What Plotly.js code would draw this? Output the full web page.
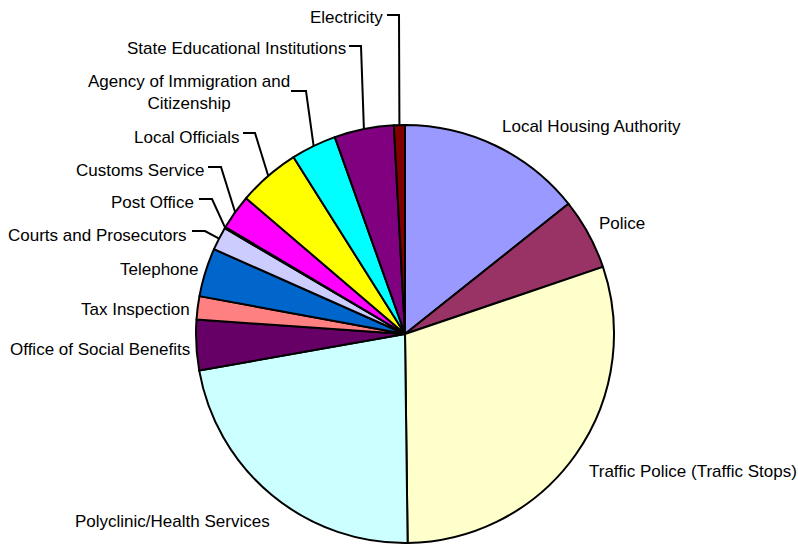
<!DOCTYPE html>
<html>
<head>
<meta charset="utf-8">
<script src="https://cdn.plot.ly/plotly-3.0.1.min.js"></script>
<style>
  html, body { margin: 0; padding: 0; background: #ffffff; }
  #chart { width: 798px; height: 544px; }
</style>
</head>
<body>
<div id="chart"></div>
<script>
// ---- data ----
const categories = [
  "Local Housing Authority",
  "Police",
  "Traffic Police (Traffic Stops)",
  "Polyclinic/Health Services",
  "Office of Social Benefits",
  "Tax Inspection",
  "Telephone",
  "Courts and Prosecutors",
  "Post Office",
  "Customs Service",
  "Local Officials",
  "Agency of Immigration and Citizenship",
  "State Educational Institutions",
  "Electricity"
];
const shares = [14.3, 5.5, 30.0, 22.4, 3.9, 1.8, 3.75, 1.8, 0.1, 2.7, 4.8, 3.5, 4.6, 0.85];
const labelText = [
  "Local Housing Authority",
  "Police",
  "Traffic Police (Traffic Stops)",
  "Polyclinic/Health Services",
  "Office of Social Benefits",
  "Tax Inspection",
  "Telephone",
  "Courts and Prosecutors",
  "Post Office",
  "Customs Service",
  "Local Officials",
  "Agency of Immigration and<br>Citizenship",
  "State Educational Institutions",
  "Electricity"
];

// ---- style / layout ----
const colors = ["#9999FF","#993366","#FFFFCC","#CCFFFF","#660066","#FF8080","#0066CC",
                "#CCCCFF","#000080","#FF00FF","#FFFF00","#00FFFF","#800080","#800000"];
const W = 798, H = 544;
const CX = 405, CY = 334, R = 209;
// label placement in pixels: x, y (centre line), anchor, optional leader [xStart, xElbow, yLine]
const labelPos = [
  {x: 500, y: 126, a: "left"},
  {x: 597, y: 223, a: "left"},
  {x: 587, y: 471, a: "left"},
  {x: 73,  y: 521, a: "left"},
  {x: 192, y: 349, a: "right"},
  {x: 192, y: 309, a: "right"},
  {x: 200, y: 269, a: "right"},
  {x: 189, y: 235, a: "right", lead: [192, 205, 231]},
  {x: 196, y: 202, a: "right", lead: [199, 212, 199]},
  {x: 206, y: 170, a: "right", lead: [208, 221, 167]},
  {x: 242, y: 137, a: "right", lead: [243, 255, 133]},
  {x: 189, y: 92.5, a: "center", lead: [291, 306, 91]},
  {x: 348, y: 48, a: "right", lead: [349, 361, 46]},
  {x: 385, y: 17, a: "right", lead: [387, 399, 15]}
];

const px = v => v / W;
const py = v => 1 - v / H;

// mid-angle of each slice (clockwise from 12 o'clock) from the data
const total = shares.reduce((s, v) => s + v, 0);
let cum = 0;
const midAngles = shares.map(v => {
  const m = (cum + v / 2) / total * 2 * Math.PI;
  cum += v;
  return m;
});

const annotations = [];
const shapes = [];
labelPos.forEach((p, i) => {
  annotations.push({
    xref: "paper", yref: "paper",
    x: px(p.x), y: py(p.y),
    xanchor: p.a, yanchor: "middle",
    text: labelText[i], showarrow: false, align: "center",
    font: {family: "Liberation Sans, Arial, sans-serif", size: 17, color: "#000000"}
  });
  if (p.lead) {
    const ex = CX + R * Math.sin(midAngles[i]);
    const ey = CY - R * Math.cos(midAngles[i]);
    shapes.push({
      type: "path", xref: "paper", yref: "paper",
      path: `M ${px(p.lead[0])},${py(p.lead[2])} L ${px(p.lead[1])},${py(p.lead[2])} L ${px(ex)},${py(ey)}`,
      line: {color: "#000000", width: 2}
    });
  }
});

const trace = {
  type: "pie",
  labels: categories,
  values: shares,
  sort: false,
  direction: "clockwise",
  rotation: 0,
  textinfo: "none",
  hoverinfo: "label+percent",
  marker: {colors: colors, line: {color: "#000000", width: 2}},
  domain: {x: [px(CX - R), px(CX + R)], y: [py(CY + R), py(CY - R)]},
  showlegend: false
};

const layout = {
  width: W, height: H,
  margin: {l: 0, r: 0, t: 0, b: 0},
  paper_bgcolor: "#ffffff",
  showlegend: false,
  annotations: annotations,
  shapes: shapes
};

Plotly.newPlot("chart", [trace], layout, {displayModeBar: false, staticPlot: true});
</script>
</body>
</html>
